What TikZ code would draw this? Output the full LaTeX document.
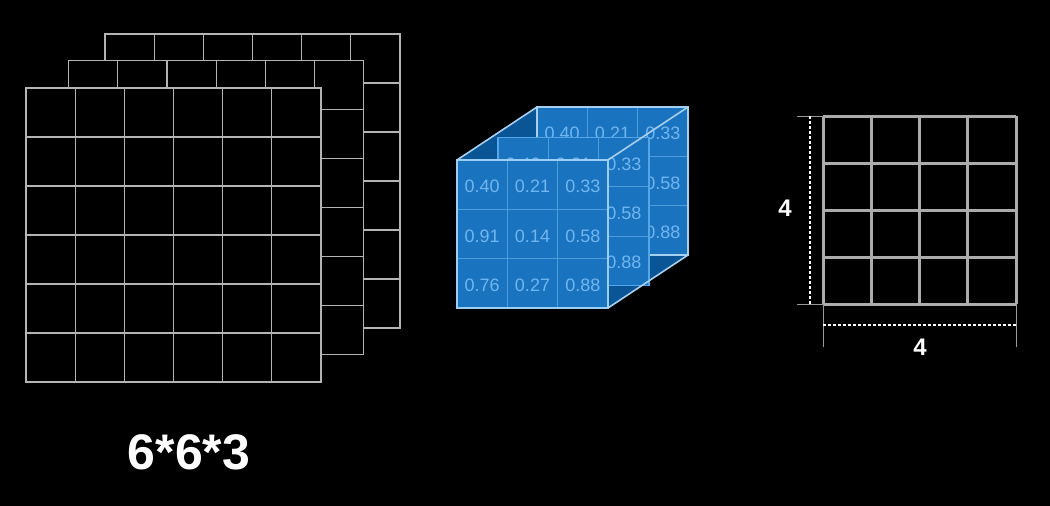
\documentclass[tikz,border=0pt]{standalone}
\usepackage{fontspec}
\setmainfont{Liberation Sans}
\definecolor{sheetgray}{HTML}{B4B4B4}
\definecolor{gridgray}{HTML}{ABABAB}
\definecolor{facefill}{HTML}{1A73BE}
\definecolor{sidefill}{HTML}{0A5596}
\definecolor{cellblue}{HTML}{4E9CDA}
\definecolor{numblue}{HTML}{70B6F2}
\definecolor{edgelight}{HTML}{A6D0F0}
\definecolor{frontedge}{HTML}{9ACEF4}
\definecolor{midedge}{HTML}{55A6E6}
\tikzset{
  sheetline/.style={draw=sheetgray, line width=1.1pt},
  cellline/.style={draw=cellblue, line width=1pt},
  num/.style={text=numblue, font=\fontsize{18}{18}\selectfont, inner sep=0pt},
  cubeedge/.style={draw=edgelight, line width=1.6pt},
  rgrid/.style={draw=gridgray, line width=3pt},
  extline/.style={draw=gray!80!white, line width=0.9pt},
  dimline/.style={draw=white, line width=1.5pt, dash pattern=on 2.5pt off 2.5pt},
  dimlabel/.style={text=white, font=\fontsize{24}{24}\selectfont\bfseries, inner sep=0pt}
}
\newcommand{\cubeface}[4]{%
  \begin{scope}[shift={(#1,#2)}]
    \fill[facefill] (0,0) rectangle (151,148);
    \foreach \i in {1,2} {
      \draw[cellline] (\i*50.33,0) -- (\i*50.33,148);
      \draw[cellline] (0,\i*49.33) -- (151,\i*49.33);
    }
    \foreach \r/\a/\b/\c in {0/0.40/0.21/0.33, 1/0.91/0.14/0.58, 2/0.76/0.27/0.88} {
      \node[num] (#4-\r-a) at (25.17, \r*49.33+26.5) {\a};
      \node[num] (#4-\r-b) at (75.5, \r*49.33+26.5) {\b};
      \node[num] (#4-\r-c) at (125.83, \r*49.33+26.5) {\c};
    }
    \draw[#3] (0,0) rectangle (151,148);
  \end{scope}}
\begin{document}
\begin{tikzpicture}[x=1pt,y=-1pt]
\fill[black] (0,0) rectangle (1050,506);
\useasboundingbox (0,0) rectangle (1050,506);

% stacked sheets 6x6x3
\foreach \ox/\oy in {105/34, 68.7/60.7, 26/88} {
  \begin{scope}[shift={(\ox,\oy)}]
    \fill[black] (0,0) rectangle (295,294);
    \foreach \i in {1,...,5} {
      \draw[sheetline] (\i*49.17,0) -- (\i*49.17,294);
      \draw[sheetline] (0,\i*49) -- (295,\i*49);
    }
    \draw[sheetline] (0,0) rectangle (295,294);
  \end{scope}
}
\node[text=white, font=\fontsize{50}{50}\selectfont\bfseries, inner sep=0pt] (dims) at (189,452) {6*6*3};

% cube
\coordinate (FTL) at (457,160);
\coordinate (FTR) at (608,160);
\coordinate (FBR) at (608,308);
\coordinate (BTL) at (537,107);
\coordinate (BTR) at (688,107);
\coordinate (BBR) at (688,255);
\fill[sidefill] (FTL) -- (BTL) -- (BTR) -- (FTR) -- cycle;
\fill[sidefill] (FTR) -- (BTR) -- (BBR) -- (FBR) -- cycle;
\cubeface{537}{107}{draw=edgelight, line width=1.5pt}{back}
\cubeface{498}{137.5}{draw=midedge, line width=1.5pt}{mid}
\cubeface{457}{160}{draw=frontedge, line width=2pt}{front}
\draw[cubeedge] (FTL) -- (BTL);
\draw[cubeedge] (FTR) -- (BTR);
\draw[cubeedge] (FBR) -- (BBR);

% 4x4 output grid
\coordinate (GTL) at (823,116);
\coordinate (GBL) at (823,304);
\coordinate (GBR) at (1016,304);
\foreach \i in {0,...,4} {
  \draw[rgrid] (823+\i*48.25,116) -- (823+\i*48.25,304);
  \draw[rgrid] (823,116+\i*47) -- (1016,116+\i*47);
}
\coordinate (ET) at (797,116);
\coordinate (EB) at (797,304);
\coordinate (EL) at (823,347);
\coordinate (ER) at (1016,347);
\draw[extline] (ET) -- (GTL);
\draw[extline] (EB) -- (GBL);
\draw[extline] (GBL) -- (EL);
\draw[extline] (GBR) -- (ER);
\coordinate (DVT) at (810,116);
\coordinate (DVB) at (810,304);
\coordinate (DHL) at (823,325);
\coordinate (DHR) at (1016,325);
\draw[dimline] (DVT) -- (DVB);
\draw[dimline] (DHL) -- (DHR);
\node[dimlabel] (hlabel) at (785,208) {4};
\node[dimlabel] (wlabel) at (920,347) {4};
\end{tikzpicture}
\end{document}
